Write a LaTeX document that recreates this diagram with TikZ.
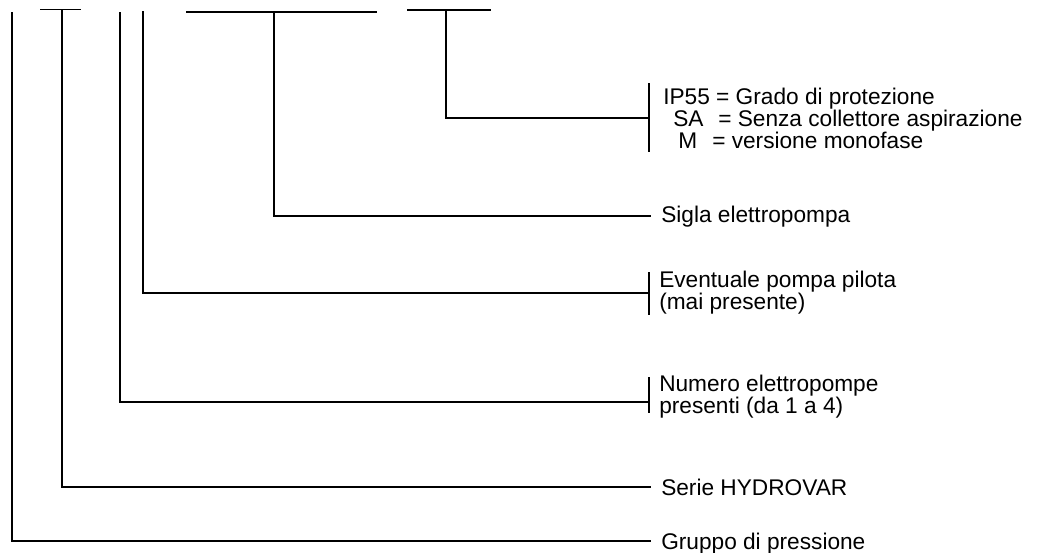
\documentclass[tikz,border=0pt]{standalone}
\usepackage{fontspec}
\setmainfont{Liberation Sans}
\begin{document}
\begin{tikzpicture}[x=0.75pt,y=-0.75pt,
  lead/.style={line width=1.3pt,line cap=butt},
  lbl/.style={anchor=base west,inner sep=0pt,font=\fontsize{17}{17}\selectfont}]
\useasboundingbox (0,0) rectangle (1049,553);
\fill[white] (0,0) rectangle (1049,553);
% tops of leaders
\coordinate (tG) at (12,12);
\coordinate (tS) at (62,9.5);
\coordinate (tN) at (120,12);
\coordinate (tE) at (143,11);
\coordinate (tP) at (274,12);
\coordinate (tI) at (446,10);
% top bars
\coordinate (bSl) at (40,9.5);  \coordinate (bSr) at (81,9.5);
\coordinate (bPl) at (186,12);  \coordinate (bPr) at (377,12);
\coordinate (bIl) at (407,10);  \coordinate (bIr) at (491,10);
\draw[lead] (bSl) -- (bSr);
\draw[lead] (bPl) -- (bPr);
\draw[lead] (bIl) -- (bIr);
% end points
\coordinate (eG) at (651,541);
\coordinate (eS) at (651,487);
\coordinate (eN) at (649,402);
\coordinate (eE) at (649,293);
\coordinate (eP) at (651,216);
\coordinate (eI) at (649,118);
% ticks
\coordinate (kNt) at (649,377); \coordinate (kNb) at (649,413);
\coordinate (kEt) at (649,272); \coordinate (kEb) at (649,315);
\coordinate (kIt) at (649,83);  \coordinate (kIb) at (649,152);
\draw[lead] (kNt) -- (kNb);
\draw[lead] (kEt) -- (kEb);
\draw[lead] (kIt) -- (kIb);
% leaders
\draw[lead] (tG) |- (eG);
\draw[lead] (tS) |- (eS);
\draw[lead] (tN) |- (eN);
\draw[lead] (tE) |- (eE);
\draw[lead] (tP) |- (eP);
\draw[lead] (tI) |- (eI);
% labels
\node[lbl] (lG) at (661,549) {Gruppo di pressione};
\node[lbl] (lS) at (661,495) {Serie HYDROVAR};
\node[lbl] (lN1) at (659,391) {Numero elettropompe};
\node[lbl] (lN2) at (659,413) {presenti (da 1 a 4)};
\node[lbl] (lE1) at (659,287) {Eventuale pompa pilota};
\node[lbl] (lE2) at (659,309) {(mai presente)};
\node[lbl] (lP) at (661,222) {Sigla elettropompa};
\node[lbl] (lI1) at (663,104) {IP55 = Grado di protezione};
\node[lbl] (lI2k) at (673,126) {SA};
\node[lbl] (lI2) at (718,126) {= Senza collettore aspirazione};
\node[lbl] (lI3k) at (678,148) {M};
\node[lbl] (lI3) at (712,148) {= versione monofase};
\end{tikzpicture}
\end{document}
